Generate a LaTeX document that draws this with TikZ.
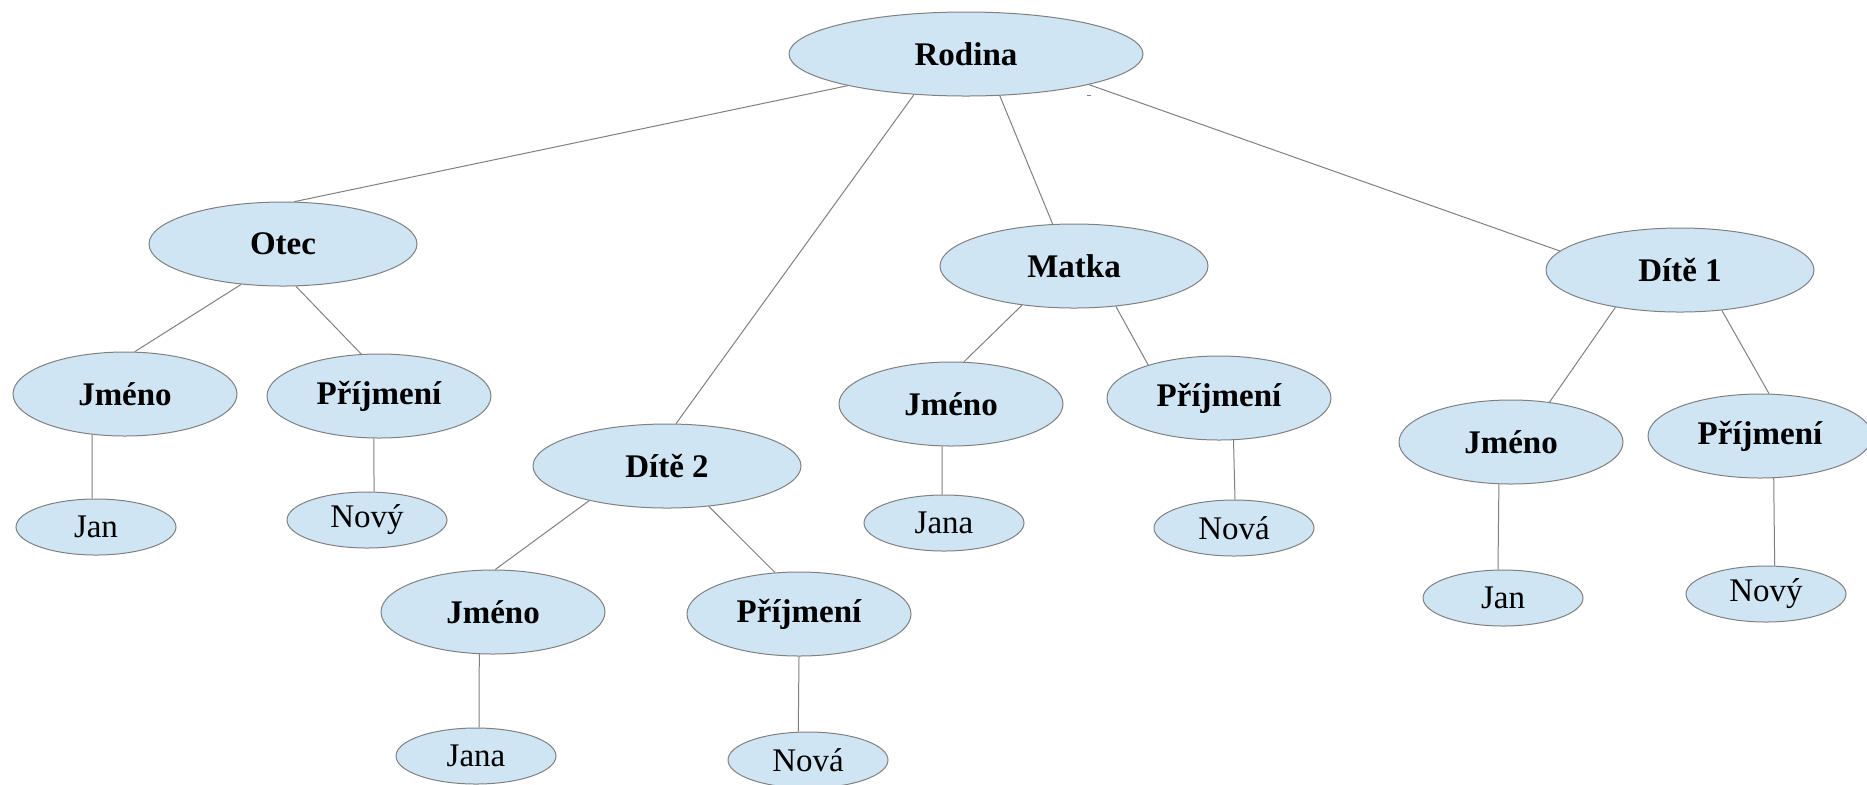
\documentclass[tikz,border=0pt]{standalone}
\usepackage{fontspec}
\setmainfont{Liberation Serif}
\usetikzlibrary{shapes}

\definecolor{ellfill}{RGB}{207,229,243}
\definecolor{edge}{RGB}{128,128,128}

\tikzset{
  item/.style={ellipse, draw=edge, fill=ellfill, line width=0.5pt, inner sep=0pt,
    font=\fontsize{16.5}{20}\selectfont\bfseries},
  top/.style={item, minimum width=177pt, minimum height=42pt},
  member/.style={item, minimum width=134pt, minimum height=42pt},
  field/.style={item, minimum width=112pt, minimum height=42pt},
  value/.style={item, minimum width=80pt, minimum height=28pt,
    font=\fontsize{16.5}{20}\selectfont},
  link/.style={draw=edge, line width=0.5pt}
}

\begin{document}
\begin{tikzpicture}[x=0.5pt, y=-0.5pt]

\useasboundingbox (0,0) rectangle (1867,784);

\node[top] (R) at (966,54) {Rodina};

\node[member] (O) at (283,244) {Otec};
\node[member] (M) at (1074,266) {Matka};
\node[member] (D1) at (1680,270) {Dítě 1};
\node[member] (D2) at (667,466) {Dítě 2};

% Otec
\node[field] (OJ) at (125,394) {Jméno};
\node[field] (OP) at (379,396) {Příjmení};
\node[value] (OJv) at (96,527) {Jan};
\node[value] (OPv) at (367,520) {Nový};

% Dite 2
\node[field] (D2J) at (493,612) {Jméno};
\node[field] (D2P) at (799,614) {Příjmení};
\node[value] (D2Jv) at (476,756) {Jana};
\node[value] (D2Pv) at (808,760) {Nová};

% Matka
\node[field] (MJ) at (951,404) {Jméno};
\node[field] (MP) at (1219,398) {Příjmení};
\node[value] (MJv) at (944,523) {Jana};
\node[value] (MPv) at (1234,528) {Nová};

% Dite 1
\node[field] (D1J) at (1511,442) {Jméno};
\node[field] (D1P) at (1760,436) {Příjmení};
\node[value] (D1Jv) at (1503,598) {Jan};
\node[value] (D1Pv) at (1766,594) {Nový};

% lines
\draw[link] (R.195) -- (O.75);
\draw[link] (R.218) -- (D2.78);
\draw[link] (R.309) -- (M.117);
\draw[link] (R.346) -- (D1.171);

\draw[link] (O.224) -- (OJ.77);
\draw[link] (O.287) -- (OP.113);
\draw[link] (OJ.231) -- (OJv.98);
\draw[link] (OP.263) -- (OPv.76);

\draw[link] (D2.204) -- (D2J.87);
\draw[link] (D2.316) -- (D2P.120);
\draw[link] (D2J.252) -- (D2Jv.84);
\draw[link] (D2P.270) -- (D2Pv.109);

\draw[link] (M.217) -- (MJ.73);
\draw[link] (M.316) -- (MP.155);
\draw[link] (MJ.258) -- (MJv.94);
\draw[link] (MP.289) -- (MPv.88);

\draw[link] (D1.210) -- (D1J.46);
\draw[link] (D1.316) -- (D1P.78);
\draw[link] (D1J.254) -- (D1Jv.100);
\draw[link] (D1P.288) -- (D1Pv.73);

\draw[link] (1087,95) -- (1091,95);

\end{tikzpicture}
\end{document}
